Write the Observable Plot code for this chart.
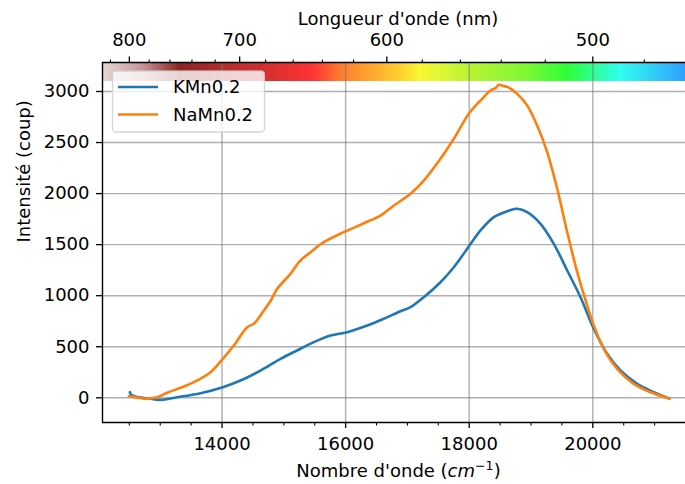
<!DOCTYPE html>
<html>
<head>
<meta charset="utf-8">
<script src="https://cdn.jsdelivr.net/npm/d3@7"></script>
<script src="https://cdn.jsdelivr.net/npm/@observablehq/plot@0.6"></script>
<style>
  html, body { margin: 0; padding: 0; background: white; }
  #chart { width: 685px; height: 484px; overflow: hidden; }
</style>
</head>
<body>
<div id="chart"></div>
<script>
// ---- Data ----
const seriesNames = ["KMn0.2", "NaMn0.2"];
const seriesColors = ["#1f77b4", "#ff7f0e"];

// KMn0.2 : wavenumber (cm-1) and intensity (coup)
const wnK = [12508, 12530, 12650, 12800, 13005, 13275, 13652, 14013, 14299, 14623,
  14947, 15270, 15485, 15756, 16026, 16350, 16618, 16888, 17050, 17265,
  17535, 17751, 18005, 18183, 18398, 18534, 18650, 18777, 18938, 19154,
  19369, 19586, 19801, 20016, 20233, 20448, 20718, 20987, 21240];
const kmn = [55, 30, 5, -5, -20, 6, 45, 104, 169, 267,
  382, 480, 545, 610, 643, 708, 774, 848, 887, 985,
  1132, 1279, 1492, 1639, 1769, 1808, 1835, 1851, 1818, 1704,
  1508, 1247, 985, 676, 431, 267, 137, 55, -8];

// NaMn0.2
const wnNa = [12492, 12600, 12735, 12951, 13113, 13330, 13544, 13814, 14013, 14191,
  14408, 14515, 14677, 14790, 14893, 15108, 15270, 15432, 15647, 15971,
  16295, 16565, 16780, 17050, 17265, 17535, 17751, 17994, 18183, 18345,
  18420, 18479, 18560, 18615, 18777, 18938, 19100, 19262, 19424, 19586,
  19748, 19909, 20016, 20178, 20395, 20663, 20934, 21240];
const namn = [15, 5, -8, 5, 50, 98, 153, 251, 382, 512,
  692, 725, 855, 953, 1067, 1214, 1345, 1426, 1524, 1622,
  1710, 1785, 1883, 1998, 2128, 2341, 2537, 2782, 2912, 3010,
  3030, 3066, 3052, 3045, 2977, 2863, 2667, 2406, 2047, 1622,
  1230, 904, 708, 480, 284, 137, 55, -8];

// Axis ticks
const xTicks = [14000, 16000, 18000, 20000];
const xMinor = [12500, 13000, 13500, 14500, 15000, 15500, 16500, 17000, 17500,
  18500, 19000, 19500, 20500, 21000];
const yTicks = [0, 500, 1000, 1500, 2000, 2500, 3000];
const nmMajor = [800, 700, 600, 500];
const nmMinor = [820, 780, 760, 740, 720, 680, 660, 640, 620, 580, 560, 540, 520, 480];

// Spectrum band (wavenumber stops and colours)
const specStops = [12066, 12700, 13330, 14024, 14800, 15477, 15914, 16885, 17210,
  18019, 18900, 19590, 20448, 21500];
const specColors = ["#e8d8d8", "#c69898", "#8b2323", "#b42c2c", "#d8302f", "#ff3333",
  "#ff7a30", "#ffd02e", "#f8f832", "#b8f434", "#80f834", "#2cff38", "#30fff0", "#30a0ff"];
const bandRange = [3100, 3284];

const xDomain = [12066, 21500];
const yDomain = [-242, 3284];

// ---- Build tables ----
const rows = [
  ...wnK.map((w, i) => ({w, v: kmn[i], s: seriesNames[0]})),
  ...wnNa.map((w, i) => ({w, v: namn[i], s: seriesNames[1]}))
];
const specScale = d3.scaleLinear().domain(specStops).range(specColors)
  .interpolate(d3.interpolateRgb).clamp(true);
const nSlices = 420;
const step = (xDomain[1] - xDomain[0]) / nSlices;
const slices = d3.range(nSlices).map(i => {
  const a = xDomain[0] + i * step;
  return {a, b: Math.min(xDomain[1], a + step * 1.3), c: specScale(a + step / 2)};
});

const FONT = 18;
const xLabel = "Nombre d'onde (cm−1)";

const svg = Plot.plot({
  width: 685,
  height: 484,
  marginLeft: 102,
  marginRight: 0,
  marginTop: 62,
  marginBottom: 62,
  style: {fontFamily: "'DejaVu Sans', sans-serif", fontSize: FONT + "px", background: "white", color: "black", overflow: "hidden"},
  x: {domain: xDomain, range: [102, 685]},
  y: {domain: yDomain},
  marks: [
    Plot.rect(slices, {x1: "a", x2: "b", y1: () => bandRange[0], y2: () => bandRange[1], fill: "c", shapeRendering: "crispEdges"}),
    Plot.gridX(xTicks, {stroke: "#7a7a7a", strokeOpacity: 0.6, strokeWidth: 1.4}),
    Plot.gridY(yTicks, {stroke: "#7a7a7a", strokeOpacity: 0.6, strokeWidth: 1.4}),
    Plot.line(rows.filter(d => d.s === seriesNames[0]), {x: "w", y: "v", stroke: seriesColors[0], strokeWidth: 2.6, curve: "catmull-rom"}),
    Plot.line(rows.filter(d => d.s === seriesNames[1]), {x: "w", y: "v", stroke: seriesColors[1], strokeWidth: 2.6, curve: "catmull-rom"}),
    // spines
    Plot.ruleX([xDomain[0]], {stroke: "black", strokeWidth: 1.4}),
    Plot.ruleY([yDomain[0], yDomain[1]], {stroke: "black", strokeWidth: 1.4}),
    // axes
    Plot.axisY(yTicks, {anchor: "left", tickSize: 6, tickPadding: 7, fontSize: FONT, strokeWidth: 1.3, tickFormat: d => String(d), label: null}),
    Plot.axisX(xTicks, {anchor: "bottom", tickSize: 6, tickPadding: 9, fontSize: FONT, strokeWidth: 1.3, tickFormat: d => String(d), label: null}),
    Plot.axisX(xMinor, {anchor: "bottom", tickSize: 3.5, strokeWidth: 1.1, tickFormat: () => "", label: null}),
    Plot.axisX(nmMajor.map(n => 1e7 / n), {anchor: "top", tickSize: 6.5, tickPadding: 10, fontSize: FONT, strokeWidth: 1.3, tickFormat: d => String(Math.round(1e7 / d)), label: null}),
    Plot.axisX(nmMinor.map(n => 1e7 / n), {anchor: "top", tickSize: 3.5, strokeWidth: 1.1, tickFormat: () => "", label: null}),
    // axis titles
    Plot.text(["Longueur d'onde (nm)"], {frameAnchor: "top", dx: 4, dy: -37.5, lineAnchor: "bottom", fontSize: FONT, text: d => d}),
    Plot.text([xLabel], {frameAnchor: "bottom", dx: 4.5, dy: 54.7, lineAnchor: "bottom", fontSize: FONT, text: d => d}),
    Plot.text(["Intensité (coup)"], {frameAnchor: "left", dx: -78, rotate: -90, lineAnchor: "middle", fontSize: FONT, text: d => d})
  ]
});

// italic "cm" with superscript in the x label
d3.select(svg).selectAll("text").filter(function() { return this.textContent === xLabel; })
  .each(function() {
    const t = d3.select(this);
    t.text(null);
    t.append("tspan").text("Nombre d'onde (");
    t.append("tspan").attr("font-style", "italic").text("cm");
    t.append("tspan").attr("font-size", "0.7em").attr("dy", "-0.6em").text("−1");
    t.append("tspan").attr("dy", "0.42em").text(")");
  });

// legend
const lg = d3.select(svg).append("g").attr("font-family", "'DejaVu Sans', sans-serif")
  .attr("font-size", FONT).attr("text-anchor", "start");
lg.append("rect").attr("x", 112.5).attr("y", 71).attr("width", 152).attr("height", 61)
  .attr("rx", 3.5).attr("fill", "white").attr("fill-opacity", 0.8)
  .attr("stroke", "#cccccc").attr("stroke-opacity", 0.8).attr("stroke-width", 1.3);
const legY = [87, 114.5];
seriesNames.forEach((name, i) => {
  lg.append("line").attr("x1", 118).attr("x2", 158).attr("y1", legY[i]).attr("y2", legY[i])
    .attr("stroke", seriesColors[i]).attr("stroke-width", 2.6);
  lg.append("text").attr("x", 173).attr("y", legY[i]).attr("dy", "0.36em")
    .attr("text-anchor", "start").attr("fill", "black").text(name);
});

document.getElementById("chart").appendChild(svg);
</script>
</body>
</html>
